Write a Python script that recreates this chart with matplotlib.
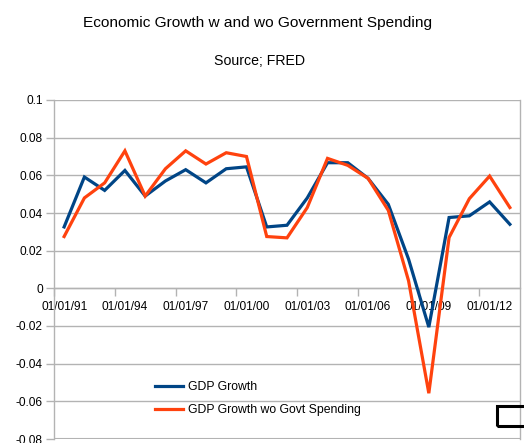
import matplotlib
matplotlib.use("Agg")
import matplotlib.pyplot as plt
from matplotlib.patches import Rectangle
from matplotlib.ticker import FixedLocator, NullFormatter, FixedFormatter

plt.rcParams['font.family'] = ['Liberation Sans', 'DejaVu Sans']

years = list(range(1991, 2014))
gdp_growth = [0.0326, 0.0591, 0.0520, 0.0626, 0.0490, 0.0570, 0.0630, 0.0560, 0.0635, 0.0645,
              0.0326, 0.0335, 0.0480, 0.0667, 0.0667, 0.0584, 0.0446, 0.0155, -0.0206,
              0.0376, 0.0385, 0.0459, 0.0340]
gdp_wo_govt = [0.0275, 0.0480, 0.0560, 0.0730, 0.0490, 0.0635, 0.0730, 0.0660, 0.0720, 0.0700,
               0.0275, 0.0268, 0.0429, 0.0690, 0.0653, 0.0584, 0.0414, 0.0040, -0.0557,
               0.0270, 0.0476, 0.0596, 0.0429]
tick_labels = ['01/01/91', '01/01/94', '01/01/97', '01/01/00', '01/01/03',
               '01/01/06', '01/01/09', '01/01/12']
yticks = [-0.08, -0.06, -0.04, -0.02, 0, 0.02, 0.04, 0.06, 0.08, 0.1]
ytick_labels = ['-0.08', '-0.06', '-0.04', '-0.02', '0', '0.02', '0.04', '0.06', '0.08', '0.1']

W, H = 524, 443
fig = plt.figure(figsize=(W / 100, H / 100), dpi=100)
ax = fig.add_axes([54 / W, 1 - 439 / H, (520 - 54) / W, (439 - 100) / H])

x = list(range(len(years)))
blue = '#004586'
orange = '#ff420e'
ax.plot(x, gdp_growth, color=blue, lw=2.3, label='GDP Growth', solid_joinstyle='miter', zorder=3)
ax.plot(x, gdp_wo_govt, color=orange, lw=2.3, label='GDP Growth wo Govt Spending', solid_joinstyle='miter', zorder=3)

ax.set_xlim(-0.5, len(years) - 0.5)
ax.set_ylim(-0.08, 0.1)

grid_c = '#b3b3b3'
ax.set_yticks(yticks)
ax.set_yticklabels(ytick_labels)
ax.yaxis.grid(True, color=grid_c, lw=1)
ax.set_axisbelow(True)

# x ticks: marks at category boundaries, labels at category centres
label_pos = [i for i, y in enumerate(years) if (y - 1991) % 3 == 0]
ax.xaxis.set_major_locator(FixedLocator([p - 0.5 for p in label_pos]))
ax.xaxis.set_major_formatter(NullFormatter())
ax.xaxis.set_minor_locator(FixedLocator(label_pos))
ax.xaxis.set_minor_formatter(FixedFormatter(tick_labels))
ax.tick_params(axis='x', which='major', length=6, color=grid_c, width=1, direction='out')
ax.tick_params(axis='x', which='minor', length=0, pad=9, labelsize=8.6)
ax.tick_params(axis='y', length=6, color=grid_c, width=1, labelsize=8.6, pad=2)

for s in ['top', 'right', 'bottom', 'left']:
    ax.spines[s].set_color(grid_c)
    ax.spines[s].set_linewidth(1)
ax.spines['bottom'].set_position(('data', 0))
ax.spines['top'].set_visible(False)
# bottom border at -0.08
ax.axhline(-0.08, color=grid_c, lw=1.5, zorder=1)

fig.text(258 / W, 1 - 23 / H, 'Economic Growth w and wo Government Spending',
         ha='center', va='center', fontsize=11.1)
fig.text(259 / W, 1 - 61 / H, 'Source; FRED', ha='center', va='center', fontsize=10.2)

leg = fig.legend(loc='upper left', bbox_to_anchor=(150 / W, 1 - 376 / H), frameon=False,
                 fontsize=8.8, handlelength=2.3, handletextpad=0.45, labelspacing=0.95,
                 borderaxespad=0)

fig.patches.append(Rectangle((497 / W, 1 - 426 / H), 40 / W, 20 / H, transform=fig.transFigure,
                             fill=False, edgecolor='black', lw=2.2, figure=fig))

fig.savefig('out.png', dpi=100)
